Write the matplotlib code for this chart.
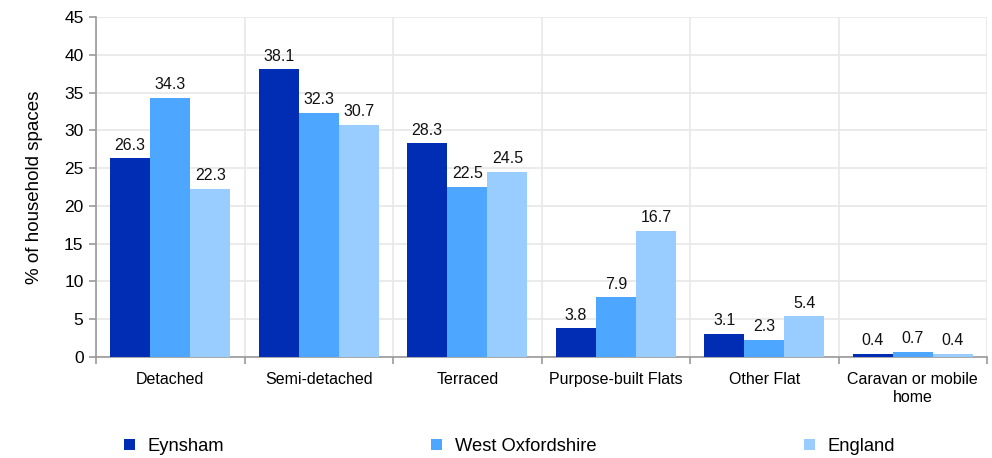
import matplotlib
matplotlib.use("Agg")
import matplotlib.pyplot as plt
from matplotlib.patches import Patch
import numpy as np

plt.rcParams['font.family'] = ['Liberation Sans', 'DejaVu Sans']

categories = ["Detached", "Semi-detached", "Terraced", "Purpose-built Flats", "Other Flat", "Caravan or mobile\nhome"]
series_names = ["Eynsham", "West Oxfordshire", "England"]
eynsham = [26.3, 38.1, 28.3, 3.8, 3.1, 0.4]
west_oxon = [34.3, 32.3, 22.5, 7.9, 2.3, 0.7]
england = [22.3, 30.7, 24.5, 16.7, 5.4, 0.4]
colors = ["#002DB3", "#4DA6FF", "#99CCFF"]

fig = plt.figure(figsize=(9.92, 4.58), dpi=100)
ax = fig.add_axes([0.0968, 0.2205, 0.8982, 0.7424])

x = np.arange(len(categories))
w = 0.27
for i, (vals, c) in enumerate(zip([eynsham, west_oxon, england], colors)):
    pos = x + (i - 1) * w
    ax.bar(pos, vals, width=w, color=c, zorder=3)
    for p, v in zip(pos, vals):
        ax.annotate(f"{v:.1f}", (p, v), xytext=(0, 4), textcoords="offset points",
                    ha="center", va="bottom", fontsize=11.5, color="#111111")

ax.set_xlim(-0.5, len(categories) - 0.5)
ax.set_ylim(0, 45)
ax.set_yticks(np.arange(0, 46, 5))
ax.set_xticks(x)
ax.set_xticklabels(categories, fontsize=11.5, linespacing=1.2)
ax.set_xticks(np.arange(-0.5, len(categories), 1), minor=True)
ax.tick_params(axis='x', which='major', length=0, pad=11)
ax.tick_params(axis='x', which='minor', length=5, color="#999999", width=1.2)
ax.tick_params(axis='y', labelsize=12.5, length=5, color="#999999", width=1.2, pad=4)
ax.grid(axis='y', color="#E8E8E8", linewidth=1.2, zorder=0)
ax.grid(axis='x', which='minor', color="#E8E8E8", linewidth=1.2, zorder=0)
for s in ['top', 'right']:
    ax.spines[s].set_visible(False)
for s in ['left', 'bottom']:
    ax.spines[s].set_color("#999999")
    ax.spines[s].set_linewidth(1.2)
ax.set_ylabel("% of household spaces", fontsize=13.5, labelpad=15)

handles = [Patch(facecolor=c, edgecolor='none') for c in colors]
fig.legend(handles, series_names, loc='center left', bbox_to_anchor=(0.108, 0.025),
           ncol=3, frameon=False, fontsize=13.2, handlelength=0.6, handleheight=0.6,
           handletextpad=0.7, columnspacing=11.3)

fig.savefig("out.png", dpi=100)
